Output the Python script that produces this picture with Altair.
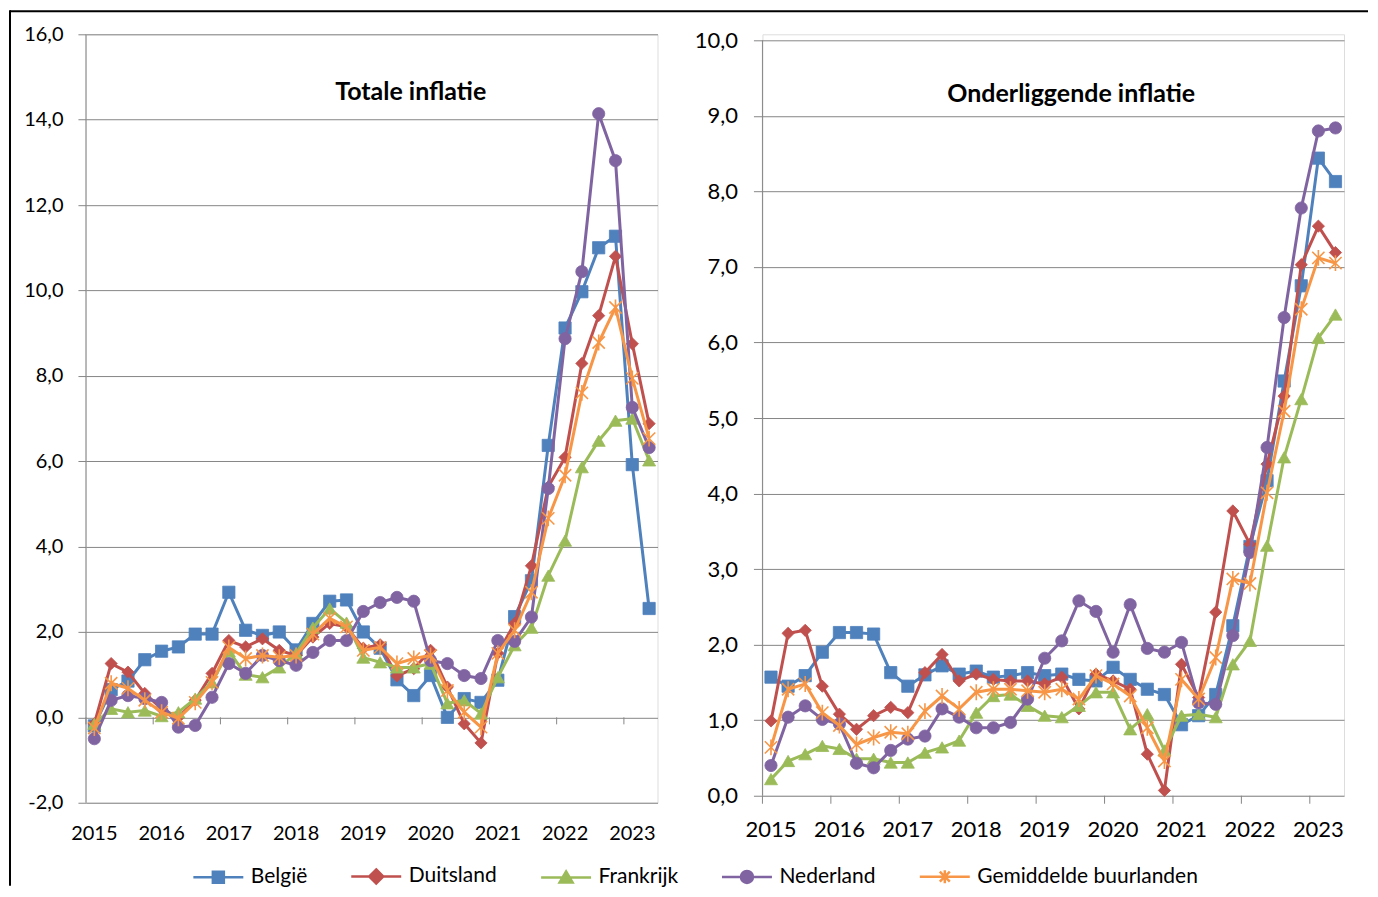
import altair as alt
import pandas as pd

# ---------------- data ----------------
quarters = [f"{y}Q{q}" for y in range(2015, 2024) for q in range(1, 5)][:34]
year_ticks = quarters[::4]

series = ["België", "Duitsland", "Frankrijk", "Nederland", "Gemiddelde buurlanden"]
colors = ["#4F81BD", "#C0504D", "#9BBB59", "#8064A2", "#F79646"]

# Totale inflatie
tot_be = [-0.2, 0.65, 0.85, 1.35, 1.55, 1.65, 1.95, 1.95, 2.93, 2.04, 1.92, 2.0, 1.58, 2.2, 2.72, 2.75, 2.0,
          1.62, 0.88, 0.51, 0.98, 0.0, 0.44, 0.35, 0.87, 2.36, 3.2, 6.37, 9.12, 9.97, 11.0, 11.27, 5.92, 2.55]
tot_de = [-0.15, 1.26, 1.06, 0.56, 0.2, 0.0, 0.4, 1.03, 1.8, 1.65, 1.84, 1.57, 1.45, 1.88, 2.2, 2.12, 1.62,
          1.7, 0.97, 1.14, 1.57, 0.71, -0.15, -0.6, 1.5, 2.2, 3.55, 5.4, 6.09, 8.29, 9.41, 10.8, 8.75, 6.88]
tot_fr = [-0.15, 0.2, 0.12, 0.16, 0.03, 0.12, 0.44, 0.82, 1.55, 1.0, 0.94, 1.17, 1.5, 2.1, 2.55, 2.22, 1.4,
          1.29, 1.17, 1.17, 1.26, 0.33, 0.4, 0.09, 0.94, 1.69, 2.1, 3.32, 4.14, 5.86, 6.48, 6.95, 7.0, 6.02]
tot_nl = [-0.5, 0.4, 0.51, 0.44, 0.35, -0.23, -0.19, 0.47, 1.26, 1.03, 1.45, 1.33, 1.22, 1.52, 1.8, 1.8, 2.48,
          2.69, 2.81, 2.72, 1.33, 1.26, 0.98, 0.91, 1.8, 1.78, 2.35, 5.36, 8.87, 10.44, 14.14, 13.04, 7.26, 6.32]
tot_gem = [-0.25, 0.8, 0.68, 0.4, 0.12, -0.02, 0.35, 0.82, 1.64, 1.38, 1.45, 1.41, 1.45, 1.95, 2.32, 2.12, 1.57,
           1.64, 1.26, 1.38, 1.45, 0.63, 0.12, -0.23, 1.5, 2.04, 2.93, 4.66, 5.67, 7.6, 8.78, 9.6, 7.94, 6.53]

# Onderliggende inflatie
core_be = [1.57, 1.45, 1.59, 1.9, 2.16, 2.16, 2.14, 1.63, 1.45, 1.6, 1.72, 1.61, 1.65, 1.57, 1.59, 1.63, 1.59,
           1.61, 1.54, 1.52, 1.70, 1.54, 1.41, 1.34, 0.94, 1.06, 1.34, 2.25, 3.3, 4.17, 5.49, 6.75, 8.44, 8.13]
core_de = [0.99, 2.15, 2.19, 1.45, 1.08, 0.88, 1.06, 1.17, 1.1, 1.63, 1.87, 1.52, 1.61, 1.54, 1.52, 1.52, 1.48,
           1.57, 1.15, 1.61, 1.52, 1.41, 0.55, 0.07, 1.74, 1.3, 2.43, 3.77, 3.33, 4.39, 5.29, 7.03, 7.54, 7.19]
core_fr = [0.22, 0.46, 0.55, 0.66, 0.62, 0.49, 0.49, 0.44, 0.44, 0.57, 0.64, 0.73, 1.1, 1.32, 1.34, 1.19, 1.06,
           1.04, 1.19, 1.37, 1.37, 0.88, 1.08, 0.6, 1.06, 1.08, 1.04, 1.74, 2.05, 3.31, 4.48, 5.25, 6.06, 6.37]
core_nl = [0.4, 1.04, 1.19, 1.01, 0.95, 0.43, 0.37, 0.6, 0.75, 0.79, 1.15, 1.04, 0.9, 0.9, 0.97, 1.28, 1.82,
           2.05, 2.58, 2.44, 1.9, 2.53, 1.95, 1.9, 2.03, 1.23, 1.21, 2.12, 3.22, 4.61, 6.33, 7.78, 8.8, 8.84]
core_gem = [0.64, 1.41, 1.48, 1.1, 0.93, 0.68, 0.77, 0.84, 0.82, 1.12, 1.32, 1.15, 1.37, 1.41, 1.41, 1.39, 1.37,
            1.41, 1.28, 1.59, 1.48, 1.32, 0.9, 0.46, 1.54, 1.28, 1.83, 2.87, 2.81, 4.01, 5.09, 6.44, 7.12, 7.05]

tot_ticks = [-2, 0, 2, 4, 6, 8, 10, 12, 14, 16]
core_ticks = [0, 1, 2, 3, 4, 5, 6, 7, 8, 9, 10]


def long_df(cols):
    rows = []
    for s, vals in zip(series, cols):
        for q, v in zip(quarters, vals):
            rows.append({"q": q, "series": s, "v": v})
    return pd.DataFrame(rows)


df_tot = long_df([tot_be, tot_de, tot_fr, tot_nl, tot_gem])
df_core = long_df([core_be, core_de, core_fr, core_nl, core_gem])

# ---------------- style ----------------
FONT = "Lato"
GRID = "#868686"
ASTER = "M-1,-1L1,1M-1,1L1,-1M0,-1.3L0,1.3"
plot_shapes = ["square", "diamond", "triangle-up", "circle", ASTER]

LINE = "M-5,0H5"
leg_marker = [
    "M-1.1,-1.1H1.1V1.1H-1.1Z",
    "M0,-1.4L1.4,0L0,1.4L-1.4,0Z",
    "M0,-1.2L1.3,1H-1.3Z",
    "M1.2,0A1.2,1.2 0 1,1 -1.2,0A1.2,1.2 0 1,1 1.2,0Z",
    "M-1,-1L1,1M-1,1L1,-1M0,-1.3V1.3",
]
leg_shapes = [LINE + m for m in leg_marker]
leg_fills = colors[:-1] + ["transparent"]

label_expr = "(datum.value < 0 ? '-' : '') + replace(format(abs(datum.value), '.1f'), '.', ',')"


def panel(df, w, h, dom, ticks, axis_lo, axis_hi, fs, ytick, ypad, xpad, title, tx, ty, tfs,
          tick_units, legend=None, frame=False):
    xs = alt.Scale(type="band", domain=quarters, paddingInner=0, paddingOuter=0)
    ys = alt.Scale(domain=dom, nice=False, zero=False)
    yaxis = alt.Axis(values=ticks, labelExpr=label_expr, grid=True, gridColor=GRID, gridWidth=1,
                     domain=False, ticks=True, tickColor=GRID, tickSize=ytick, tickWidth=1,
                     labelPadding=ypad, labelFontSize=fs, labelFont=FONT, labelColor="black", title=None)
    xaxis = alt.Axis(values=year_ticks, labelExpr="slice(datum.value, 0, 4)", grid=False, domain=False,
                     ticks=False, labelPadding=xpad, labelFontSize=fs, labelFont=FONT, labelAngle=0,
                     labelColor="black", title=None)
    X = alt.X("q:N", scale=xs, axis=xaxis)
    Y = alt.Y("v:Q", scale=ys, axis=yaxis)
    one = pd.DataFrame({"a": [0]})

    layers = []
    # y axis line
    layers.append(alt.Chart(one).mark_rule(color=GRID, strokeWidth=1).encode(
        x=alt.value(0), y=alt.datum(axis_lo, scale=ys, axis=yaxis), y2=alt.datum(axis_hi)))
    # category tick marks at the zero line
    layers.append(alt.Chart(pd.DataFrame({"q": year_ticks})).mark_rule(color=GRID, strokeWidth=1).encode(
        x=alt.X("q:N", scale=xs, axis=xaxis, bandPosition=0),
        y=alt.datum(0, scale=ys, axis=yaxis), y2=alt.datum(-tick_units)))

    base = alt.Chart(df)
    for i, (s, c) in enumerate(zip(series, colors)):
        sub = base.transform_filter(alt.datum.series == s)
        layers.append(sub.mark_line(color=c, strokeWidth=3).encode(x=X, y=Y))
        if i < 4:
            layers.append(sub.mark_point(shape=plot_shapes[i], filled=True, color=c, opacity=1,
                                         size=150 if i != 2 else 170, stroke=c, strokeWidth=0.8).encode(x=X, y=Y))
        else:
            layers.append(sub.mark_point(shape=ASTER, filled=False, color=c, opacity=1, size=150,
                                         strokeWidth=1.6).encode(x=X, y=Y))
    if legend is not None:
        # legend carrier: rows with no value, so nothing is drawn in the plot
        leg_df = pd.DataFrame({"series": series, "q": [quarters[0]] * 5, "v": [None] * 5})
        layers.append(alt.Chart(leg_df).mark_point(filled=False, strokeWidth=2.5, opacity=1).encode(
            x=X, y=Y,
            color=alt.Color("series:N", scale=alt.Scale(domain=series, range=colors), legend=legend),
            fill=alt.Fill("series:N", scale=alt.Scale(domain=series, range=leg_fills), legend=legend),
            shape=alt.Shape("series:N", scale=alt.Scale(domain=series, range=leg_shapes), legend=legend),
        ))
    layers.append(alt.Chart(one).mark_text(font=FONT, fontSize=tfs, fontWeight="bold", color="black",
                                           align="center", baseline="middle").encode(
        x=alt.value(tx), y=alt.value(ty), text=alt.value(title)))
    if frame:
        layers.append(alt.Chart(one).mark_rule(color="black", strokeWidth=2).encode(
            x=alt.value(-76), x2=alt.value(1283), y=alt.value(-23)))
        layers.append(alt.Chart(one).mark_rule(color="black", strokeWidth=2).encode(
            x=alt.value(-76), y=alt.value(-24), y2=alt.value(852)))
    return alt.layer(*layers).properties(width=w, height=h)


legend = alt.Legend(
    orient="none", legendX=122, legendY=832, direction="horizontal", title=None,
    labelFont=FONT, labelFontSize=21, labelColor="black", labelLimit=500, symbolSize=100, labelOffset=22,
    columnPadding=38, symbolStrokeWidth=2.5, symbolOpacity=1, padding=0,
)

left = panel(df_tot, 572, 769, [-2, 16], tot_ticks, -2, 16, 20, 8, 15, 21,
             "Totale inflatie", 325, 58, 25, 7 / 42.72, legend=legend, frame=True)
right = panel(df_core, 582, 762, [0, 10 * 762 / 756], core_ticks, 0, 10, 22, 9, 16, 24,
              "Onderliggende inflatie", 309, 60, 25, 8 / 75.6)

chart = alt.hconcat(left, right, spacing=105, bounds="flush").properties(
    padding={"left": 0, "top": 0, "right": 0, "bottom": 0}
).configure_view(stroke=None).configure(font=FONT)

chart.save("out.html", embed_options={"renderer": "svg", "actions": False})
